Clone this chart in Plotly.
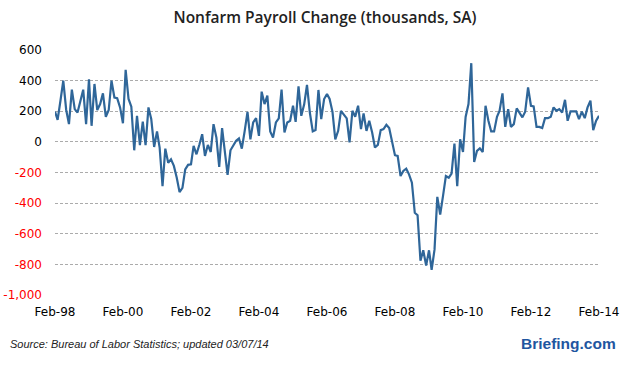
import pandas as pd
import plotly.graph_objects as go

start_month = "1998-02-01"
payroll_change = [
    197, 144, 270, 400, 210, 116, 341, 214, 192, 270, 341,
    116, 409, 105, 378, 208, 247, 317, 164, 208, 400, 290, 286,
    225, 122, 470, 280, 230, -55, 170, -22, 133, -22, 225, 149,
    -33, 68, -37, -289, -44, -136, -114, -157, -234, -328, -300, -180,
    -150, -146, -26, -81, -20, 50, -92, -20, -66, 116, 28, -164,
    90, -92, -216, -55, -26, 7, 22, -44, 72, 196, 17, 127,
    155, 39, 328, 247, 302, 68, 28, 127, 153, 341, 61, 127,
    138, 236, 131, 363, 170, 245, 372, 190, 68, 77, 339, 149,
    280, 313, 280, 196, 17, 72, 203, 181, 153, -4, 203, 164,
    236, 83, 186, 72, 138, 61, -37, -20, 77, 83, 111, 90,
    7, -87, -92, -223, -190, -175, -212, -267, -463, -479, -776, -708,
    -807, -708, -835, -704, -359, -474, -354, -223, -234, -208, -11, -289,
    17, -66, 163, 247, 514, -131, -59, -42, -66, 236, 138, 68,
    68, 164, 203, 317, 98, 214, 98, 116, 219, 186, 160, 197,
    356, 236, 232, 98, 98, 90, 155, 155, 164, 225, 203, 214,
    192, 275, 138, 199, 199, 199, 149, 197, 155, 225, 269, 77,
    138, 171,
]
months = pd.date_range(start_month, periods=len(payroll_change), freq="MS")

y_ticks_pos = [600, 400, 200, 0]
y_ticks_neg = [-200, -400, -600, -800, -1000]
x_ticks = pd.date_range("1998-02-01", "2014-02-01", freq="24MS")
x_tick_labels = ["Feb-98", "Feb-00", "Feb-02", "Feb-04", "Feb-06",
                 "Feb-08", "Feb-10", "Feb-12", "Feb-14"]

fig = go.Figure()
# invisible copy on the overlay axis so the red negative tick labels are drawn
fig.add_trace(go.Scatter(
    x=months, y=payroll_change, mode="lines", yaxis="y2",
    line=dict(color="rgba(0,0,0,0)", width=0), hoverinfo="skip",
))
fig.add_trace(go.Scatter(
    x=months, y=payroll_change, mode="lines",
    line=dict(color="#2f6699", width=2.2),
    hoverinfo="x+y",
))

tickfont = dict(family="DejaVu Sans", size=12, color="#000000")
fig.update_layout(
    width=626, height=367,
    margin=dict(l=55, r=27, t=50, b=72, autoexpand=False),
    paper_bgcolor="white", plot_bgcolor="white",
    showlegend=False,
    font=dict(family="DejaVu Sans", size=12, color="#000000"),
    title=dict(
        text="Nonfarm Payroll Change (thousands, SA)",
        x=(325 - 55) / 544, xref="paper", xanchor="center", y=0.953, yanchor="middle",
        font=dict(family="Open Sans", size=15.5, color="#222222", weight=600),
    ),
    xaxis=dict(
        range=[months[0], months[-1]], automargin=False,
        tickmode="array", tickvals=list(x_ticks), ticktext=x_tick_labels,
        showgrid=False, zeroline=False, showline=False, ticks="",
        ticklabelstandoff=8, tickfont=tickfont,
    ),
    yaxis=dict(
        range=[-1000, 600], automargin=False,
        tickmode="array", tickvals=y_ticks_pos + y_ticks_neg,
        ticktext=[f"{v:,}" for v in y_ticks_pos] + [""] * len(y_ticks_neg),
        showgrid=True, gridcolor="#ababab", griddash="3px,2px", gridwidth=1,
        zeroline=False, showline=False, ticks="",
        ticklabelstandoff=12, tickfont=tickfont,
    ),
    yaxis2=dict(
        range=[-1000, 600], overlaying="y", side="left", automargin=False,
        tickmode="array", tickvals=y_ticks_neg,
        ticktext=[f"{v:,}" for v in y_ticks_neg],
        showgrid=False, zeroline=False, showline=False, ticks="",
        ticklabelstandoff=12,
        tickfont=dict(family="DejaVu Sans", size=12, color="#ff0000"),
    ),
    annotations=[
        dict(text="Source: Bureau of Labor Statistics; updated 03/07/14",
             xref="paper", yref="paper", x=-47/544, y=-49/245,
             xanchor="left", yanchor="middle", showarrow=False,
             font=dict(family="Liberation Sans", size=11, color="#222222", style="italic")),
        dict(text="<b>Briefing.com</b>",
             xref="paper", yref="paper", x=(618-55)/544, y=-48/245,
             xanchor="right", yanchor="middle", showarrow=False,
             font=dict(family="Liberation Sans", size=15.5, color="#1f56a0")),
    ],
)

fig.write_html("out.html", config={"displayModeBar": False},
               post_script="document.body.style.margin='0';")
